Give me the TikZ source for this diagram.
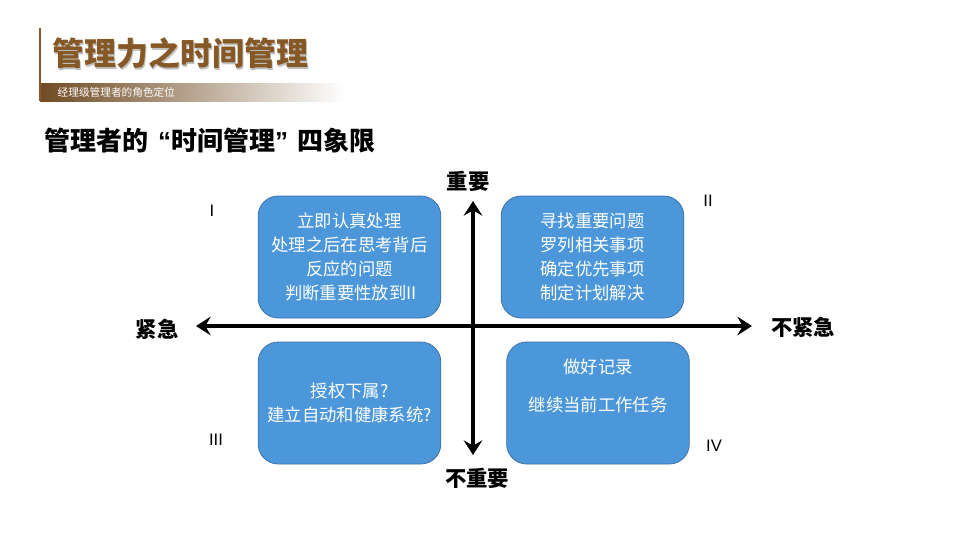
\documentclass[tikz,border=0pt]{standalone}
\usepackage{fontspec}
\setmainfont{Noto Sans CJK SC}
\newfontfamily\latinfont{Liberation Sans}
\usetikzlibrary{arrows.meta}

\definecolor{titlebrown}{RGB}{133,88,38}
\definecolor{barbrown}{RGB}{112,74,34}
\definecolor{boxblue}{RGB}{76,151,218}
\definecolor{boxedge}{RGB}{62,114,165}

\tikzset{
  quad/.style={draw=boxedge, line width=0.6pt, fill=boxblue, rounded corners=15pt,
    minimum width=137pt, minimum height=91.5pt, inner sep=0pt},
  quadtext/.style={text=white, align=center, font=\fontsize{13}{18}\selectfont},
  axis/.style={line width=2.4pt, {Stealth[length=11pt,width=14pt,inset=4pt]}-{Stealth[length=11pt,width=14pt,inset=4pt]}},
  axislabel/.style={font=\fontsize{16}{19}\selectfont\bfseries},
  numeral/.style={font=\latinfont\fontsize{12.5}{14}\selectfont}
}

\begin{document}
\begin{tikzpicture}[x=0.75pt, y=-0.75pt]
        \useasboundingbox (0,0) rectangle (960,540);
        % header
        \shade[left color=barbrown, right color=white] (40,83) rectangle (345,101);
        \draw[titlebrown, line width=1.6pt] (40,28) -- (40,101);
        \node[anchor=west, text=black!25, font=\fontsize{24}{28}\selectfont\bfseries] at (48.8,54.8) {管理力之时间管理};
        \node[anchor=west, text=titlebrown, font=\fontsize{24}{28}\selectfont\bfseries] (title) at (47.5,53.5) {管理力之时间管理};
        \node[anchor=west, text=white, font=\fontsize{8}{10}\selectfont] (subtitle) at (53,92) {经理级管理者的角色定位};
        \node[anchor=west, font=\fontsize{19.5}{23}\selectfont\bfseries] (heading) at (40,141)
          {管理者的\hspace{7pt}{\latinfont“}时间管理{\latinfont”}\hspace{7pt}四象限};

        % axes
        \coordinate (west) at (196,326);
        \coordinate (east) at (752,326);
        \coordinate (north) at (473,201);
        \coordinate (south) at (473,455);
        \draw[axis] (west) -- (east);
        \draw[axis] (south) -- (north);
        \node[axislabel] (important) at (468,181) {重要};
        \node[axislabel] (unimportant) at (477,478) {不重要};
        \node[axislabel] (urgent) at (157,329) {紧急};
        \node[axislabel] (noturgent) at (803,327) {不紧急};

        % quadrants
        \node[quad, quadtext] (q1) at (349.5,257) {立即认真处理\\处理之后在思考背后\\反应的问题\\\,判断重要性放到II};
        \node[quad, quadtext] (q2) at (592.5,257) {寻找重要问题\\罗列相关事项\\确定优先事项\\制定计划解决};
        \node[quad, quadtext] (q3) at (349.5,403) {授权下属?\\建立自动和健康系统?};
        \node[quad] (q4) at (598,403) {};
        \node[quadtext] (q4text) at (598,386) {做好记录\\[10pt]继续当前工作任务};

        \node[numeral] (n1) at (212,211) {I};
        \node[numeral] (n2) at (708,201) {II};
        \node[numeral] (n3) at (216,440) {III};
        \node[numeral] (n4) at (714,446) {IV};
    \end{tikzpicture}
\end{document}
